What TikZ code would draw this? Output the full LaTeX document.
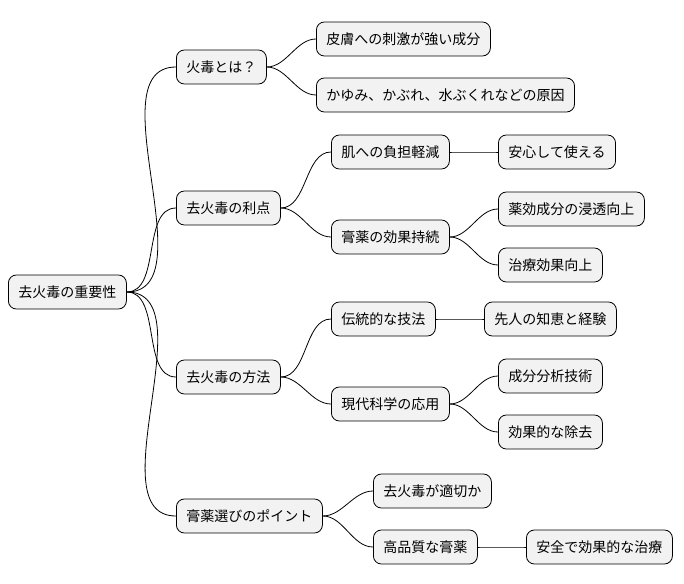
\documentclass[tikz,border=0pt]{standalone}
\usepackage{fontspec}
\setmainfont{Noto Sans CJK JP}
\begin{document}
\begin{tikzpicture}[x=1pt,y=-1pt,thick,
topic/.style={draw,rounded corners=8pt,fill=black!5,minimum height=34pt,inner xsep=10pt,anchor=west,font=\fontsize{14pt}{16pt}\selectfont},
branch/.style={draw,line width=0.8pt,out=0,in=180,looseness=0.9}]
\useasboundingbox (0,0) rectangle (684,583);

\node[topic] (root) at (8,292) {去火毒の重要性};

\node[topic] (what) at (176,67) {火毒とは？};
\node[topic] (merit) at (176,208) {去火毒の利点};
\node[topic] (method) at (176,377) {去火毒の方法};
\node[topic] (choose) at (176,516) {膏薬選びのポイント};

\node[topic] (irritant) at (316,39) {皮膚への刺激が強い成分};
\node[topic] (cause) at (316,95) {かゆみ、かぶれ、水ぶくれなどの原因};
\node[topic] (skin) at (331,152) {肌への負担軽減};
\node[topic] (last) at (331,237) {膏薬の効果持続};
\node[topic] (trad) at (331,319) {伝統的な技法};
\node[topic] (modern) at (331,404) {現代科学の応用};
\node[topic] (proper) at (373,491) {去火毒が適切か};
\node[topic] (quality) at (373,547) {高品質な膏薬};

\node[topic] (safe) at (498,152) {安心して使える};
\node[topic] (absorb) at (498,209) {薬効成分の浸透向上};
\node[topic] (effect) at (498,265) {治療効果向上};
\node[topic] (wisdom) at (484,319) {先人の知恵と経験};
\node[topic] (analysis) at (498,376) {成分分析技術};
\node[topic] (removal) at (498,432) {効果的な除去};
\node[topic] (cure) at (526,547) {安全で効果的な治療};

% branches
\foreach \a/\b in {root/what,root/merit,root/method,root/choose,
  what/irritant,what/cause,merit/skin,merit/last,method/trad,method/modern,
  choose/proper,choose/quality,skin/safe,last/absorb,last/effect,
  trad/wisdom,modern/analysis,modern/removal,quality/cure}
  \draw[branch] (\a.east) to (\b.west);
\end{tikzpicture}
\end{document}
